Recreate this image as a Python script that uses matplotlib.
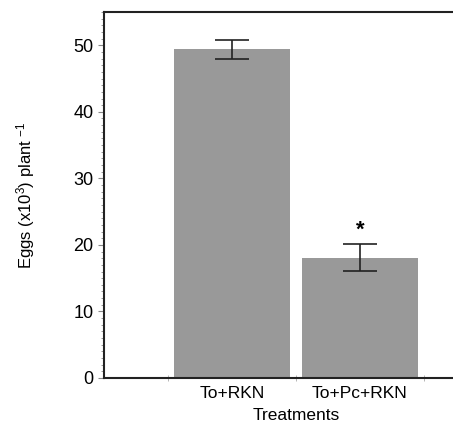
import matplotlib
matplotlib.use('Agg')
import matplotlib.pyplot as plt
from matplotlib.ticker import MultipleLocator

treatments = ['To+RKN', 'To+Pc+RKN']
eggs = [49.4, 18.1]
err = [1.45, 2.0]
sig = ['', '*']

plt.rcParams['font.family'] = ['Liberation Sans', 'DejaVu Sans']
plt.rcParams['mathtext.default'] = 'regular'

fig = plt.figure(figsize=(4.53, 4.25), dpi=100, facecolor='w')
ax = fig.add_axes([104/453, 47/425, 384/453, 366/425])

x = [0, 1]
ax.bar(x, eggs, width=0.9, color='#999999', edgecolor='none', zorder=2)
ax.errorbar(x, eggs, yerr=err, fmt='none', ecolor='#222222', elinewidth=1.2,
            capsize=12, capthick=1.2, zorder=3)
for xi, v, e, s in zip(x, eggs, err, sig):
    if s:
        ax.text(xi, v + e + 0.6, s, ha='center', va='bottom', fontsize=16, fontweight='bold')

ax.set_xlim(-1, 2)
ax.set_ylim(0, 55)
ax.set_xticks(x)
ax.set_xticklabels(treatments, fontsize=12.5)
ax.tick_params(axis='x', which='major', length=0, pad=6)
ax.set_xticks([-0.5, 0.5, 1.5], minor=True)
ax.tick_params(axis='x', which='minor', direction='inout', length=5, color='#aaaaaa')

ax.set_yticks([0, 10, 20, 30, 40, 50])
ax.yaxis.set_minor_locator(MultipleLocator(1))
ax.tick_params(axis='y', which='major', labelsize=13, length=4, color='#888888')
ax.tick_params(axis='y', which='minor', length=2.5, color='#888888')

for s in ['left', 'bottom', 'top']:
    ax.spines[s].set_linewidth(1.5)
    ax.spines[s].set_color('#222222')
ax.spines['right'].set_visible(False)

ax.set_xlabel('Treatments', fontsize=12.5, labelpad=5)
ax.set_ylabel('Eggs (x10$^3$) plant $^{-1}$', fontsize=12, labelpad=26)

plt.savefig('out.png', dpi=100)
